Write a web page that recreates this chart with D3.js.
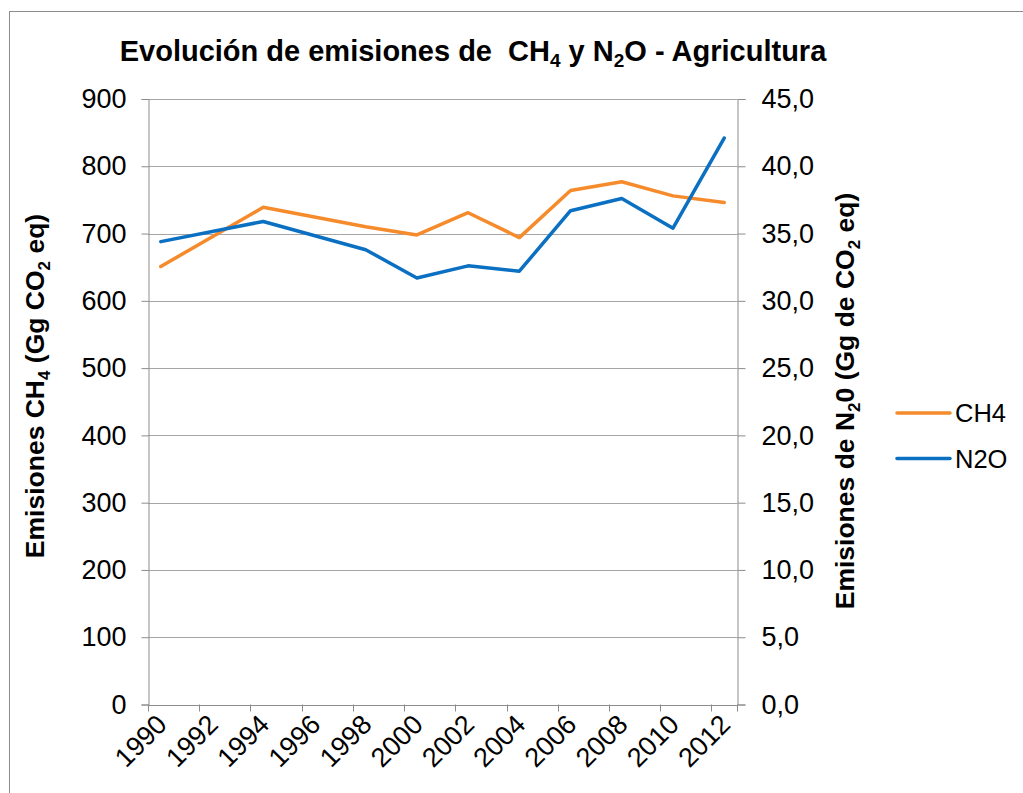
<!DOCTYPE html>
<html>
<head>
<meta charset="utf-8">
<script src="https://cdn.jsdelivr.net/npm/d3@7"></script>
<style>
  html, body { margin: 0; padding: 0; background: #fff; }
  svg { display: block; font-family: Arial, "Liberation Sans", sans-serif; }
</style>
</head>
<body>
<svg id="chart" width="1023" height="793"></svg>
<script>
// Yearly categories on the x axis; only every other year carries a label
const years = [1990, 1991, 1992, 1993, 1994, 1995, 1996, 1997, 1998, 1999, 2000, 2001,
               2002, 2003, 2004, 2005, 2006, 2007, 2008, 2009, 2010, 2011, 2012];
const yearLabels = [1990, 1992, 1994, 1996, 1998, 2000, 2002, 2004, 2006, 2008, 2010, 2012];

// CH4 emissions, Gg CO2 eq (left axis); null = no inventory value that year
const ch4 = [651, null, null, null, 739, null, null, null, 710, null, 698, null,
             731, null, 694, null, 764, null, 777, null, 756, null, 746];
// N2O emissions, Gg CO2 eq (right axis)
const n2o = [34.4, null, null, null, 35.9, null, null, null, 33.8, null, 31.7, null,
             32.6, null, 32.2, null, 36.7, null, 37.6, null, 35.4, null, 42.1];

const leftTicks = [0, 100, 200, 300, 400, 500, 600, 700, 800, 900];
const rightTicks = [0, 5, 10, 15, 20, 25, 30, 35, 40, 45];

const seriesNames = ["CH4", "N2O"];
const colors = { CH4: "#F68B2C", N2O: "#0B70C2" };

const svg = d3.select("#chart");
const plot = { left: 148, right: 737, top: 99, bottom: 704.5 };

// Outer chart frame
svg.append("rect")
  .attr("x", 9.5).attr("y", 11.5)
  .attr("width", 1100).attr("height", 900)
  .attr("fill", "#fff").attr("stroke", "#8c8c8c").attr("stroke-width", 1);

const x = d3.scaleBand().domain(years).range([plot.left, plot.right]).padding(0);
const yL = d3.scaleLinear().domain([0, 900]).range([plot.bottom, plot.top]);
const yR = d3.scaleLinear().domain([0, 45]).range([plot.bottom, plot.top]);
const cx = yr => x(yr) + x.bandwidth() / 2;

const gridColor = "#a6a6a6";
const axisColor = "#8c8c8c";
const tickFont = 27;

// Horizontal gridlines
svg.append("g").selectAll("line").data(leftTicks.filter(d => d > 0)).join("line")
  .attr("x1", plot.left).attr("x2", plot.right)
  .attr("y1", d => Math.round(yL(d)) + 0.5).attr("y2", d => Math.round(yL(d)) + 0.5)
  .attr("stroke", gridColor).attr("stroke-width", 1);

// Left axis
const leftAxis = d3.axisLeft(yL).tickValues(leftTicks).tickSize(7).tickPadding(15)
  .tickFormat(d3.format("d"));
const gL = svg.append("g").attr("transform", `translate(${plot.left + 0.5},0)`).call(leftAxis);

// Right axis
const rightAxis = d3.axisRight(yR).tickValues(rightTicks).tickSize(8).tickPadding(16)
  .tickFormat(d => d3.format(".1f")(d).replace(".", ","));
const gR = svg.append("g").attr("transform", `translate(${plot.right + 0.5},0)`).call(rightAxis);

[gL, gR].forEach(g => {
  g.select(".domain").attr("stroke", axisColor);
  g.selectAll(".tick line").attr("stroke", axisColor);
  g.selectAll(".tick text").attr("font-size", tickFont).attr("fill", "#000")
    .attr("font-family", "Arial, 'Liberation Sans', sans-serif");
});

// Bottom axis: baseline, a tick every two categories, rotated labels
const gB = svg.append("g");
gB.append("line")
  .attr("x1", plot.left).attr("x2", plot.right + 1)
  .attr("y1", Math.round(plot.bottom) + 0.5).attr("y2", Math.round(plot.bottom) + 0.5)
  .attr("stroke", axisColor);
const tickPos = years.filter((d, i) => i % 2 === 0).map(d => x(d)).concat([plot.right]);
gB.selectAll("line.tk").data(tickPos).join("line").attr("class", "tk")
  .attr("x1", d => Math.round(d) + 0.5).attr("x2", d => Math.round(d) + 0.5)
  .attr("y1", plot.bottom).attr("y2", plot.bottom + 7)
  .attr("stroke", axisColor);
gB.selectAll("text").data(yearLabels).join("text")
  .attr("transform", d => `translate(${cx(d) + 1},${plot.bottom + 15}) rotate(-45)`)
  .attr("text-anchor", "end").attr("dy", "0.35em")
  .attr("font-size", tickFont).attr("fill", "#000")
  .text(d => d);

// Series lines (gaps are bridged between reported years)
const lineL = d3.line().x(d => cx(d.year)).y(d => yL(d.v));
const lineR = d3.line().x(d => cx(d.year)).y(d => yR(d.v));
const pts = arr => years.map((yr, i) => ({ year: yr, v: arr[i] })).filter(d => d.v !== null);

svg.append("path").datum(pts(ch4)).attr("d", lineL)
  .attr("fill", "none").attr("stroke", colors.CH4).attr("stroke-width", 3.5)
  .attr("stroke-linejoin", "round").attr("stroke-linecap", "round");
svg.append("path").datum(pts(n2o)).attr("d", lineR)
  .attr("fill", "none").attr("stroke", colors.N2O).attr("stroke-width", 3.5)
  .attr("stroke-linejoin", "round").attr("stroke-linecap", "round");

// Title with chemical subscripts
const title = svg.append("text")
  .attr("x", 473).attr("y", 61).attr("text-anchor", "middle")
  .attr("font-size", 29).attr("font-weight", "bold").attr("fill", "#000");
title.append("tspan").text("Evolución de emisiones de \u00a0CH");
title.append("tspan").attr("font-size", 19).attr("dy", 6).text("4");
title.append("tspan").attr("dy", -6).text(" y N");
title.append("tspan").attr("font-size", 19).attr("dy", 6).text("2");
title.append("tspan").attr("dy", -6).text("O - Agricultura");

// Left axis title
const tl = svg.append("text")
  .attr("transform", `translate(44,386) rotate(-90)`)
  .attr("text-anchor", "middle").attr("font-size", 26.5).attr("font-weight", "bold").attr("fill", "#000");
tl.append("tspan").text("Emisiones CH");
tl.append("tspan").attr("font-size", 17).attr("dy", 6).text("4");
tl.append("tspan").attr("dy", -6).text(" (Gg CO");
tl.append("tspan").attr("font-size", 17).attr("dy", 6).text("2");
tl.append("tspan").attr("dy", -6).text(" eq)");

// Right axis title
const tr = svg.append("text")
  .attr("transform", `translate(854,401) rotate(-90)`)
  .attr("text-anchor", "middle").attr("font-size", 26.5).attr("font-weight", "bold").attr("fill", "#000");
tr.append("tspan").text("Emisiones de N");
tr.append("tspan").attr("font-size", 17).attr("dy", 6).text("2");
tr.append("tspan").attr("dy", -6).text("0 (Gg de CO");
tr.append("tspan").attr("font-size", 17).attr("dy", 6).text("2");
tr.append("tspan").attr("dy", -6).text(" eq)");

// Legend
const legend = svg.append("g");
seriesNames.forEach((name, i) => {
  const ly = 413 + i * 45.5;
  legend.append("line")
    .attr("x1", 897).attr("x2", 950).attr("y1", ly).attr("y2", ly)
    .attr("stroke", colors[name]).attr("stroke-width", 3.5).attr("stroke-linecap", "round");
  legend.append("text")
    .attr("x", 955).attr("y", ly).attr("dy", "0.36em")
    .attr("font-size", 25.5).attr("fill", "#000").text(name);
});
</script>
</body>
</html>
